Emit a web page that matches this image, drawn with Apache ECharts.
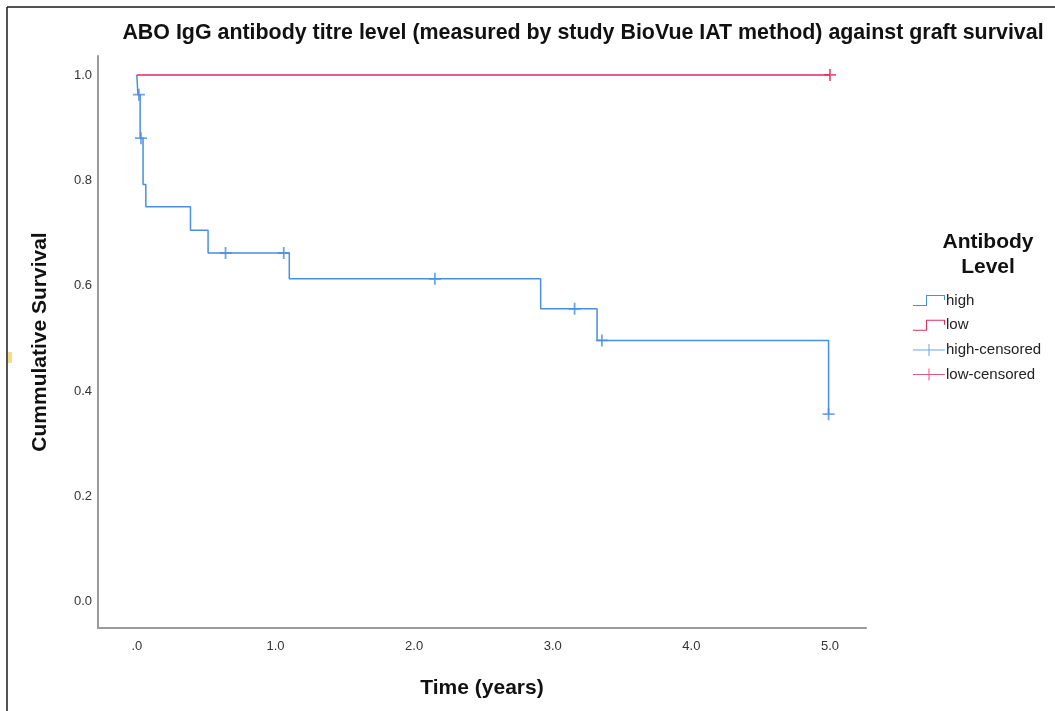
<!DOCTYPE html>
<html>
<head>
<meta charset="utf-8">
<script src="https://cdn.jsdelivr.net/npm/echarts@6/dist/echarts.min.js"></script>
<style>
html,body{margin:0;padding:0;background:#fff;}
#chart{width:1055px;height:711px;}
</style>
</head>
<body>
<div id="chart"></div>
<script>
// ---- data ----
const titleText = 'ABO IgG antibody titre level (measured by study BioVue IAT method) against graft survival';
const legendTitle = 'Antibody\nLevel';
const xAxisName = 'Time (years)';
const yAxisName = 'Cummulative Survival';
const xTicks = [0, 1, 2, 3, 4, 5];
const yTicks = [0, 0.2, 0.4, 0.6, 0.8, 1.0];
const seriesNames = ['high', 'low', 'high-censored', 'low-censored'];
// Kaplan-Meier step points [time, survival] (value after each event)
const highTimes    = [0, 0.008, 0.024, 0.045, 0.065, 0.387, 0.514, 1.10, 2.913, 3.32, 4.99];
const highSurvival = [1.0, 0.9625, 0.88, 0.792, 0.75, 0.705, 0.662, 0.613, 0.556, 0.496, 0.356];
const lowTimes     = [0, 5.0];
const lowSurvival  = [1.0, 1.0];
// censored marks
const highCensTimes    = [0.015, 0.03, 0.64, 1.06, 2.15, 3.158, 3.355, 4.99];
const highCensSurvival = [0.9625, 0.88, 0.662, 0.662, 0.613, 0.556, 0.496, 0.356];
const lowCensTimes     = [5.0];
const lowCensSurvival  = [1.0];

const zip = (a, b) => a.map((v, i) => [v, b[i]]);
const blue = '#4a8ee0';
const red = '#e2285f';
const font = 'Liberation Sans, Arial, sans-serif';
const plusPath = 'path://M5.1,0 H6.9 V5.1 H12 V6.9 H6.9 V12 H5.1 V6.9 H0 V5.1 H5.1 Z';
const plusLegend = 'path://M0,5.5 H15.5 V0 H16.5 V5.5 H32 V6.5 H16.5 V12 H15.5 V6.5 H0 Z';
const stepLegend = 'path://M0,11 H13 V1 H32 V6 H31 V2 H14 V12 H0 Z';

const chart = echarts.init(document.getElementById('chart'));
chart.setOption({
  backgroundColor: '#fff',
  animation: false,
  title: [
    {
      text: titleText,
      left: 578, top: 18, textAlign: 'center',
      textStyle: {fontFamily: font, fontSize: 21.4, fontWeight: 'bold', color: '#111'}
    },
    {
      text: legendTitle,
      left: 983, top: 225, textAlign: 'center',
      textStyle: {fontFamily: font, fontSize: 21, fontWeight: 'bold', color: '#111', lineHeight: 25, align: 'center'}
    }
  ],
  legend: {
    orient: 'vertical',
    left: 908, top: 288,
    itemWidth: 32, itemHeight: 12, itemGap: 9.7,
    textStyle: {fontFamily: font, fontSize: 15, color: '#222', padding: [0, 0, 0, -4]},
    data: [
      {name: seriesNames[0], icon: stepLegend},
      {name: seriesNames[1], icon: stepLegend},
      {name: seriesNames[2], icon: plusLegend},
      {name: seriesNames[3], icon: plusLegend}
    ]
  },
  grid: {left: 98, right: 189, top: 56, bottom: 83, containLabel: false},
  xAxis: {
    type: 'value', min: -0.28, max: 5.26,
    name: xAxisName, nameLocation: 'middle', nameGap: 50,
    nameTextStyle: {fontFamily: font, fontSize: 21, fontWeight: 'bold', color: '#111'},
    axisLine: {show: true, onZero: false, lineStyle: {color: '#9a9a9a', width: 2}},
    axisTick: {show: false},
    splitLine: {show: false},
    axisLabel: {
      customValues: xTicks, margin: 12, color: '#333', fontSize: 13,
      fontFamily: font,
      formatter: v => v === 0 ? '.0' : v.toFixed(1)
    }
  },
  yAxis: {
    type: 'value', min: -0.05, max: 1.036,
    name: yAxisName, nameLocation: 'middle', nameGap: 47, nameRotate: 90,
    nameTextStyle: {fontFamily: font, fontSize: 21, fontWeight: 'bold', color: '#111'},
    axisLine: {show: true, onZero: false, lineStyle: {color: '#9a9a9a', width: 2}},
    axisTick: {show: false},
    splitLine: {show: false},
    axisLabel: {
      customValues: yTicks, margin: 6, color: '#333', fontSize: 13,
      fontFamily: font,
      formatter: v => v.toFixed(1)
    }
  },
  series: [
    {
      name: seriesNames[0], type: 'line', step: 'end', showSymbol: false,
      data: zip(highTimes, highSurvival), color: blue,
      lineStyle: {color: blue, width: 1.5}, z: 3
    },
    {
      name: seriesNames[1], type: 'line', step: 'end', showSymbol: false,
      data: zip(lowTimes, lowSurvival), color: red,
      lineStyle: {color: red, width: 1.5}, z: 3
    },
    {
      name: seriesNames[2], type: 'scatter', symbol: plusPath, symbolSize: 12,
      data: zip(highCensTimes, highCensSurvival), color: blue,
      itemStyle: {color: blue}, z: 4
    },
    {
      name: seriesNames[3], type: 'scatter', symbol: plusPath, symbolSize: 12,
      data: zip(lowCensTimes, lowCensSurvival), color: red,
      itemStyle: {color: red}, z: 4
    }
  ],
  graphic: [
    {type: 'line', shape: {x1: 7, y1: 7, x2: 1055, y2: 7}, style: {stroke: '#1a1a1a', lineWidth: 1.5}},
    {type: 'line', shape: {x1: 7, y1: 7, x2: 7, y2: 711}, style: {stroke: '#1a1a1a', lineWidth: 1.5}},
    {type: 'rect', shape: {x: 8, y: 352, width: 4, height: 11}, style: {fill: '#f7dc8a'}}
  ]
});
</script>
</body>
</html>
